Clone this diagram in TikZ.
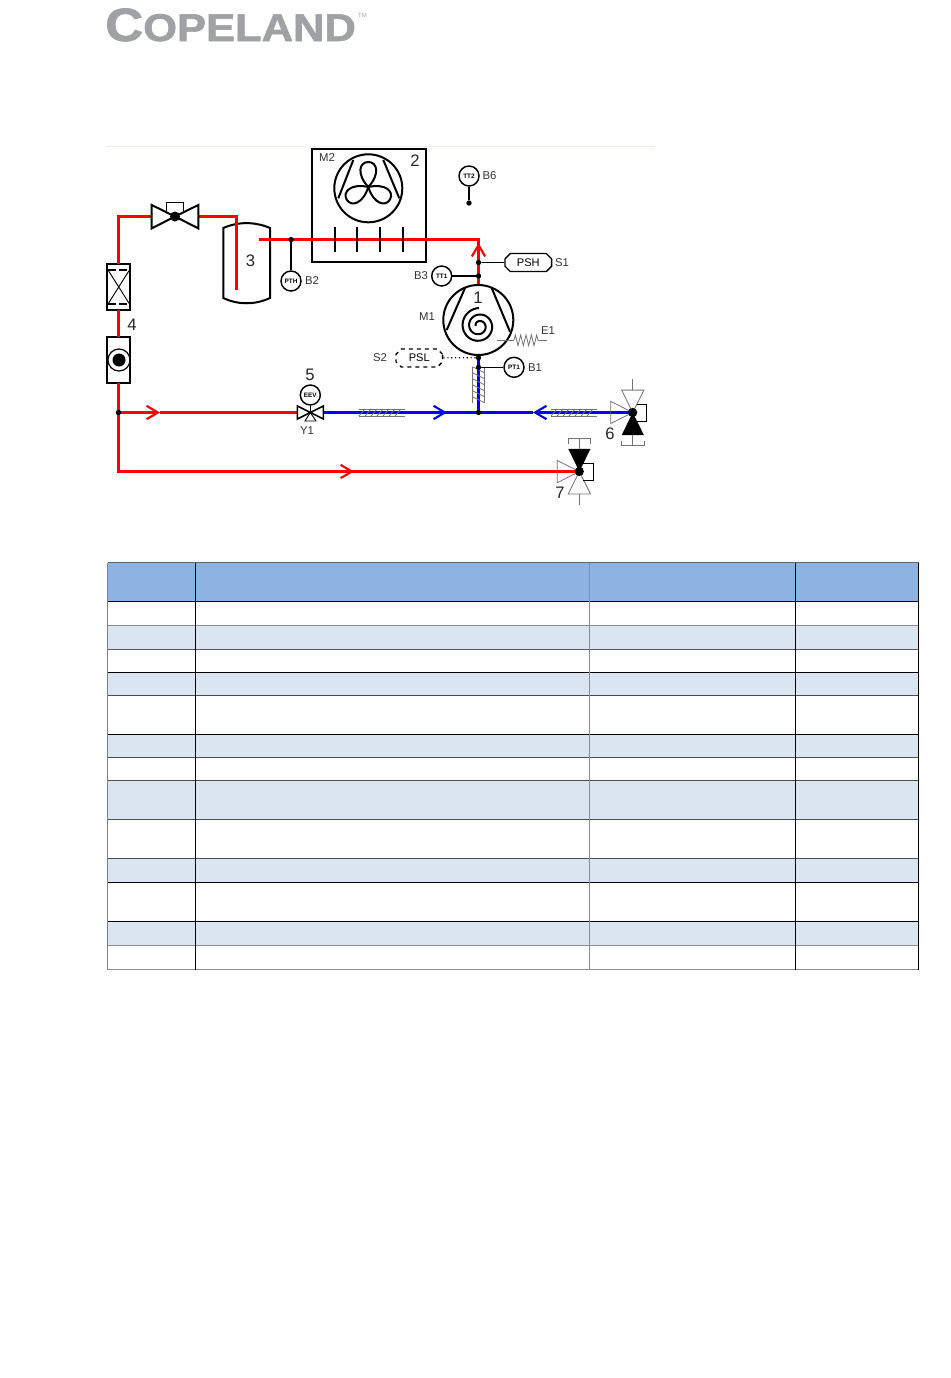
\documentclass[tikz,border=0pt]{standalone}
\usepackage{fontspec}
\setmainfont{Liberation Sans}
\newfontfamily\logofont[BoldFeatures={FakeBold=1.5}]{Liberation Sans}
\usetikzlibrary{arrows.meta,shapes.misc,decorations.pathmorphing}
\definecolor{logogrey}{HTML}{A0A1A4}
\definecolor{headblue}{HTML}{8DB3E2}
\definecolor{rowblue}{HTML}{DBE5F1}
\definecolor{pipered}{HTML}{FF0000}
\definecolor{pipeblue}{HTML}{0000F0}
\tikzset{
  redpipe/.style={draw=pipered,line width=2pt},
  bluepipe/.style={draw=pipeblue,line width=2pt},
  chevron/.style={-{Straight Barb[length=8.5pt,width=10pt,line width=1.6pt]}},
  outline/.style={draw=black,line width=1.5pt},
  gauge/.style={circle,draw=black,fill=white,line width=1.1pt,minimum size=15pt,inner sep=0pt,font=\fontsize{4.8}{5}\selectfont\bfseries},
  jdot/.style={circle,fill=black,minimum size=4pt,inner sep=0pt},
  switchbox/.style={chamfered rectangle,chamfered rectangle xsep=2pt,chamfered rectangle ysep=2pt,draw=black,fill=white,line width=1pt,minimum width=35pt,minimum height=13.5pt,inner sep=0pt,font=\fontsize{8.3}{10}\selectfont},
  tag/.style={inner sep=0pt,text=black!80,font=\fontsize{8.5}{10}\selectfont},
  num/.style={inner sep=0pt,text=black!85,font=\fontsize{12.5}{14}\selectfont},
  thinline/.style={draw=black!55,line width=.6pt},
  pics/threeway/.style={code={
    \draw[thinline] (0,0) -- (-22,-11.2) -- (-22,11) -- cycle;
    \draw[thinline] (0,0) -- (-11,-22.4) -- (11.2,-22.4) -- cycle;
    \draw[thinline] (0,-22.4) -- (0,-33.4);
    \fill[black] (0,0) -- (-11,22.6) -- (11.2,22.6) -- cycle;
    \draw[thinline] (0,22.6) -- (0,33.3) (-11,28) -- (-11,33.3) -- (11.2,33.3) -- (11.2,28);
    \draw[black,line width=.6pt] (4,-8.4) -- (14,-8.4) -- (14,8.6) -- (4,8.6);
    \fill[black] (0,0) circle (4.6);
  }},
  pics/lagging/.style 2 args={code={
    \draw[thinline] (0,-#2) -- (#1,-#2) (0,#2) -- (#1,#2);
    \foreach \s in {6,12,...,#1}
      \draw[thinline] ({\s-6},#2) -- (\s,-#2);
  }}
}
\begin{document}
\begin{tikzpicture}[x=.75pt,y=-.75pt]
\useasboundingbox (0,0) rectangle (950,1378);

% the logo
\node[anchor=base west,inner sep=0pt,text=logogrey,xscale=1.125,transform shape] (logo) at (105,41)
  {\logofont\bfseries\fontsize{35}{35}\selectfont C\fontsize{29}{29}\selectfont OPELAND};
\node[inner sep=0pt,text=logogrey,font=\fontsize{4.5}{5}\selectfont] (tm) at (362.5,15.5) {TM};
\draw[draw=blue!7,line width=.6pt] (106,146) -- (655,146);

% the table: fills first, then rules
\fill[headblue] (107.5,562.5) rectangle (918.5,601.5);
\foreach \ya/\yb in {625.5/649.5,672.5/695.5,734.5/757.5,780.5/819.5,858.5/882.5,921.5/945.5}
  \fill[rowblue] (107.5,\ya) rectangle (918.5,\yb);
\foreach \yr/\shade in {562.5/60,601.5/100,625.5/45,649.5/65,672.5/100,695.5/70,734.5/100,757.5/70,780.5/70,819.5/70,858.5/70,882.5/100,921.5/100,945.5/45,969.5/45}
  \draw[black!\shade,line width=.75pt] (107.5,\yr) -- (918.5,\yr);
\foreach \xr/\shade in {107.5/50,195.5/100,589.5/45,795.5/100,918.5/100}
  \draw[black!\shade,line width=.75pt] (\xr,562.5) -- (\xr,969.5);

% fixed points of the circuit
\coordinate (v6) at (632.7,412.5);
\coordinate (v7) at (579.3,471.5);
\coordinate (fanc) at (368.3,187);
\coordinate (topleft) at (118.5,216.5);
\coordinate (botleft) at (118.5,471.5);
\coordinate (rectop) at (236.5,216.5);
\coordinate (recend) at (236.5,290);
\coordinate (gasin) at (259,239.5);
\coordinate (gascorner) at (478.5,239.5);
\coordinate (gasout) at (478.5,285);
\coordinate (suctop) at (478.5,355);
\coordinate (arrowa) at (160,412.5);
\coordinate (arrowb) at (354,471.5);
\coordinate (arrowc) at (447,412.5);
\coordinate (arrowd) at (533,412.5);
\coordinate (arrowe) at (478.5,243);
\coordinate (vin) at (297,412.5);
\coordinate (vout) at (323,412.5);
\coordinate (xv) at (151.7,216.5);
\coordinate (xvout) at (198.3,216.5);

% condenser
\draw[outline] (311.7,149) rectangle (426,261.7);
\draw[outline] (368.3,188.3) circle (34);
\draw[outline] (353.3,160) -- (338.3,198.3) (383.3,160) -- (399.3,198.3);
\foreach \r in {0,120,240}
  \draw[outline,shift={(fanc)},rotate=\r] (0,0) .. controls (-12,-13) and (-9,-25) .. (0,-25) .. controls (9,-25) and (12,-13) .. (0,0);

% receiver
\draw[outline] (223.3,228) .. controls (238,221.5) and (255,221.5) .. (270,228) -- (270,298)
  .. controls (255,305) and (238,305) .. (223.3,298) -- cycle;

% filter drier and sight glass
\draw[outline,fill=white] (107.3,264) rectangle (130,310);
\draw[black,line width=.9pt,dashed,dash pattern=on 6pt off 2pt] (108,270) -- (129.5,270) (108,304) -- (129.5,304);
\draw[black,line width=.7pt] (108,270) -- (129.5,304) (129.5,270) -- (108,304);
\draw[outline,fill=white] (107.3,337.3) rectangle (130,383.3);
\draw[black,line width=.9pt] (119,360) circle (11);
\fill[black] (119,360) circle (6.5);

% the red lines
\draw[redpipe] (118.5,264) -- (topleft) -- (xv);
\draw[redpipe] (118.5,310) -- (118.5,337.3);
\draw[redpipe] (xvout) -- (rectop) -- (recend);
\draw[redpipe] (118.5,383.3) -- (botleft) -- (arrowb);
\draw[redpipe,chevron] (botleft) -- (arrowb);
\draw[redpipe] (arrowb) -- (v7);
\draw[redpipe,chevron] (118.5,412.5) -- (arrowa);
\draw[redpipe] (arrowa) -- (vin);
\draw[redpipe] (gasin) -- (gascorner) -- (gasout);
\draw[redpipe,chevron] (478.5,262) -- (arrowe);

% the fins go over the red line
\foreach \xf in {334.7,357.3,380,402.7}
  \draw[outline] (\xf,227) -- (\xf,252);

% compressor
\draw[outline,fill=white] (478.3,320) circle (35);
\draw[outline] (465,288) -- (446.7,330) (491.7,288) -- (510,331.7);
\draw[outline] plot[domain=180:990,samples=90,smooth,variable=\t] ({479+.0182*\t*cos(\t)},{326+.0182*\t*sin(\t)});
\draw[thinline] (496.7,340.3) -- (514,340.3);
\draw[thinline,decorate,decoration={zigzag,segment length=4,amplitude=4}] (514,340.3) -- (538,340.3);
\draw[thinline] (538,340.3) -- (546.7,340.3);

% the blue lines
\draw[bluepipe] (suctop) -- (478.5,412.5);
\draw[bluepipe] (vout) -- (arrowc);
\draw[bluepipe,chevron] (vout) -- (arrowc);
\draw[bluepipe] (arrowc) -- (arrowd);
\draw[bluepipe,chevron] (v6) -- (arrowd);

% insulation on the lines
\pic at (359,412.5) {lagging={46}{3.5}};
\pic at (551,412.5) {lagging={46}{3.5}};
\pic[rotate=-90] at (478.5,366.7) {lagging={36}{6}};

% valves
\draw[outline,fill=white] (151.7,205) -- (151.7,228.4) -- (175,216.5) -- cycle;
\draw[outline,fill=white] (198.3,205) -- (198.3,228.4) -- (175,216.5) -- cycle;
\draw[black,line width=1.1pt] (166.7,211) -- (166.7,202.7) -- (183.3,202.7) -- (183.3,211);
\fill[black] (175,216.5) circle (5);
\draw[black,line width=1.2pt,fill=white] (297.3,406) -- (297.3,419) -- (310.3,412.5) -- cycle;
\draw[black,line width=1.2pt,fill=white] (323.3,406) -- (323.3,419) -- (310.3,412.5) -- cycle;
\draw[black,line width=.7pt] (310.3,412.5) -- (305,421) -- (316,421) -- cycle;
\pic at (v6) {threeway};
\pic[yscale=-1] at (v7) {threeway};

% the sensors with their dots
\node[jdot] (jliq) at (118.5,412.5) {};
\node[jdot] (jsplit) at (478.5,412.5) {};
\node[jdot] (jb2) at (291,239.5) {};
\node[jdot] (js1) at (478.5,262.5) {};
\node[jdot] (jb3) at (478.5,276) {};
\node[jdot] (js2) at (478.5,357.7) {};
\node[jdot] (jb1) at (478.5,367.3) {};
\node[jdot] (jb6) at (469,203) {};
\node[gauge] (b2) at (291,281) {PTH};
\node[gauge] (b3) at (441.7,276) {TT1};
\node[gauge] (b1) at (514,367.3) {PT1};
\node[gauge] (b6) at (469,176) {TT2};
\node[gauge] (y1) at (310.3,395) {EEV};
\node[switchbox] (s1) at (528.3,262.5) {PSH};
\node[switchbox,dashed] (s2) at (419.3,358) {PSL};
\draw[black,line width=1pt] (jb2) -- (b2);
\draw[black,line width=1pt] (jb3) -- (b3);
\draw[black,line width=1pt] (jb1) -- (b1);
\draw[black,line width=1pt] (jb6) -- (b6);
\draw[black,line width=.7pt] (js1) -- (s1);
\draw[black,line width=.9pt,dotted] (js2) -- (s2);
\draw[black,line width=.9pt] (y1) -- (310.3,412.5);

% labels
\foreach \n/\p/\t in {lm2/{327,158}/M2,lb6/{489.5,176}/B6,lb2/{312,281}/B2,ls1/{562,263}/S1,lb3/{421,276}/B3,lm1/{427,317}/M1,le1/{548,331}/E1,ls2/{380,358}/S2,lb1/{535,367.3}/B1,ly1/{307,431}/Y1}
  \node[tag] (\n) at (\p) {\t};
\foreach \n/\p/\t in {n1/{478,298}/1,n2/{415,161}/2,n3/{250.5,261}/3,n4/{132,324.6}/4,n5/{310,375}/5,n6/{610,433.5}/6,n7/{560,493}/7}
  \node[num] (\n) at (\p) {\t};
\end{tikzpicture}
\end{document}
